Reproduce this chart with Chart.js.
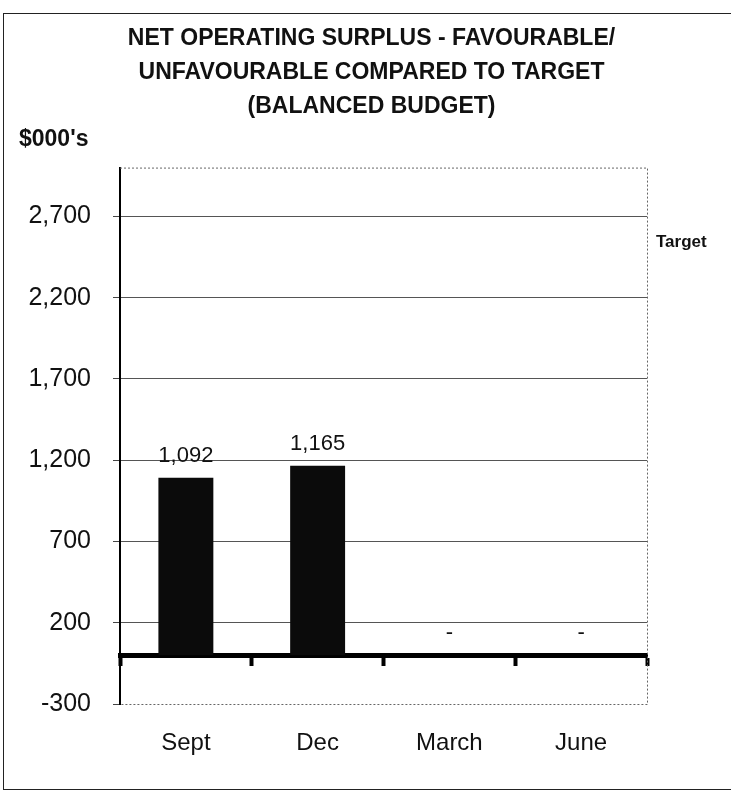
<!DOCTYPE html>
<html>
<head>
<meta charset="utf-8">
<script src="https://cdn.jsdelivr.net/npm/chart.js@4"></script>
<style>
  html, body { margin: 0; padding: 0; background: #fff; overflow: hidden; }
  #wrap { position: relative; width: 731px; height: 794px; overflow: hidden; }
  #frame { position: absolute; left: 3px; top: 13px; width: 760px; height: 775px;
           border: 1px solid #222; border-right: none; }
  canvas { position: absolute; left: 0; top: 0; }
</style>
</head>
<body>
<div id="wrap">
  <div id="frame"></div>
  <canvas id="surplusChart" width="731" height="794"></canvas>
</div>
<script>
// Квартальные данные ($000's)
const quarters = ['Sept', 'Dec', 'March', 'June'];
const surplus = [1092, 1165, 0, 0];
const yTicks = [-300, 200, 700, 1200, 1700, 2200, 2700];
const yMin = -300;
const yMax = 3000;
const targetLabel = 'Target';

const textColor = '#111';
const fontFamily = '"Liberation Sans", Arial, sans-serif';

// Подписи значений над столбцами, ноль показываем как "-"
const valueLabels = {
    id: 'valueLabels',
    afterDatasetsDraw(chart) {
        const ctx = chart.ctx;
        const meta = chart.getDatasetMeta(0);
        ctx.save();
        ctx.font = '22px ' + fontFamily;
        ctx.fillStyle = textColor;
        ctx.textAlign = 'center';
        ctx.textBaseline = 'alphabetic';
        meta.data.forEach((bar, i) => {
            const v = surplus[i];
            const text = v ? v.toLocaleString('en-US') : '-';
            ctx.fillText(text, bar.x, bar.y - 16);
        });
        ctx.restore();
    }
};

// Пунктирная рамка области графика и подпись Target справа
const plotFrame = {
    id: 'plotFrame',
    afterDraw(chart) {
        const { ctx, chartArea: a } = chart;
        ctx.save();
        ctx.strokeStyle = '#666';
        ctx.lineWidth = 1;
        ctx.setLineDash([2, 2]);
        ctx.beginPath();
        ctx.moveTo(a.left, a.top + 0.5);
        ctx.lineTo(a.right + 0.5, a.top + 0.5);
        ctx.lineTo(a.right + 0.5, a.bottom + 0.5);
        ctx.lineTo(a.left, a.bottom + 0.5);
        ctx.stroke();
        ctx.setLineDash([]);

        ctx.font = 'bold 17px ' + fontFamily;
        ctx.fillStyle = textColor;
        ctx.textAlign = 'left';
        ctx.textBaseline = 'middle';
        ctx.fillText(targetLabel, a.right + 9, a.top + 75);
        ctx.restore();
    }
};

const ctx = document.getElementById('surplusChart').getContext('2d');
const chart = new Chart(ctx, {
    type: 'bar',
    data: {
        labels: quarters,
        datasets: [{
            label: 'Net operating surplus',
            data: surplus,
            backgroundColor: '#0b0b0b',
            borderWidth: 0,
            barPercentage: 0.417,
            categoryPercentage: 1.0
        }]
    },
    options: {
        responsive: false,
        animation: false,
        devicePixelRatio: 1,
        layout: { padding: { top: 22, left: 19, right: 7, bottom: 0 } },
        plugins: {
            legend: { display: false },
            tooltip: { enabled: false },
            title: {
                display: true,
                text: ['NET OPERATING SURPLUS - FAVOURABLE/',
                       'UNFAVOURABLE COMPARED TO TARGET',
                       '(BALANCED BUDGET)'],
                color: textColor,
                font: { family: fontFamily, size: 23, weight: 'bold', lineHeight: 1.478 },
                padding: { top: 0, bottom: 0 }
            },
            subtitle: {
                display: true,
                text: "$000's",
                align: 'start',
                color: textColor,
                font: { family: fontFamily, size: 23, weight: 'bold', lineHeight: 1.2 },
                padding: { top: 2, bottom: 14 }
            }
        },
        scales: {
            x: {
                position: 'bottom',
                grid: { display: false },
                border: { display: false },
                ticks: {
                    color: textColor,
                    font: { family: fontFamily, size: 24 },
                    padding: 17
                },
                afterFit(scale) { scale.height = 90; }
            },
            // ось X по нулю: толстая линия с засечками между кварталами
            x0: {
                type: 'category',
                position: { y: 0 },
                offset: true,
                grid: {
                    display: true,
                    drawOnChartArea: false,
                    offset: true,
                    tickLength: 8,
                    tickWidth: 4,
                    tickColor: '#000'
                },
                border: { display: true, width: 5, color: '#000' },
                ticks: { display: false }
            },
            y: {
                min: yMin,
                max: yMax,
                afterBuildTicks(scale) {
                    scale.ticks = yTicks.map(v => ({ value: v }));
                },
                grid: {
                    color: c => c.tick && c.tick.value === yMin ? 'rgba(0,0,0,0)' : '#555',
                    lineWidth: 1,
                    tickLength: 7,
                    tickColor: '#444'
                },
                border: { display: true, color: '#000', width: 2 },
                ticks: {
                    color: textColor,
                    font: { family: fontFamily, size: 25 },
                    padding: 22,
                    callback: v => v.toLocaleString('en-US')
                },
                afterFit(scale) { scale.width = 101; }
            },
            // пустое место справа под подпись Target
            yRight: {
                type: 'linear',
                position: 'right',
                grid: { display: false },
                border: { display: false },
                ticks: { display: false },
                afterFit(scale) { scale.width = 77; }
            }
        }
    },
    plugins: [valueLabels, plotFrame]
});
</script>
</body>
</html>
